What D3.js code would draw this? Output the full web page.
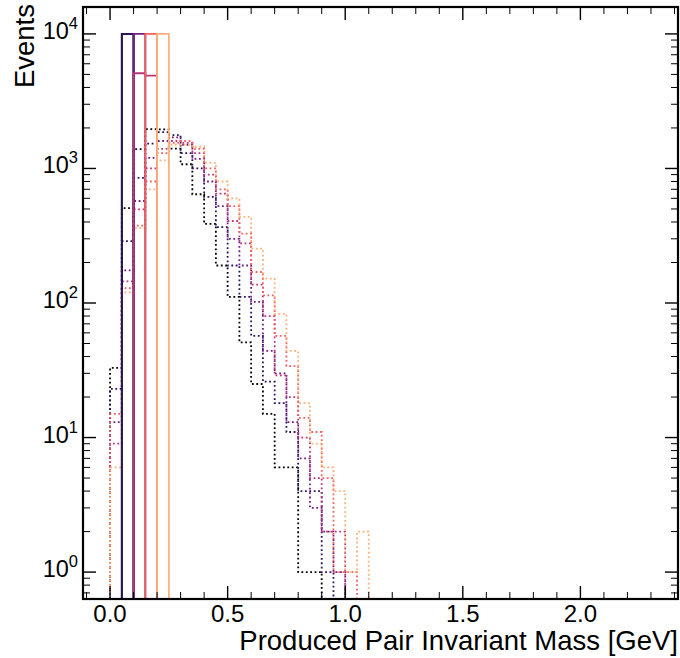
<!DOCTYPE html>
<html>
<head>
<meta charset="utf-8">
<script src="https://cdn.jsdelivr.net/npm/d3@7"></script>
<style>
  body { margin: 0; background: #fff; }
  text { font-family: "Liberation Sans", Arial, sans-serif; fill: #000; }
</style>
</head>
<body>
<div id="chart"></div>
<script>
// bin width of every histogram, GeV
const binWidth = 0.05;

// colours, one per sample
const colors = ["#000004", "#2c115f", "#721f81", "#b73779", "#f1605d", "#feb078"];

// generated (solid) histograms, counts per 0.05 GeV bin starting at 0
const solid0 = [0, 10000];
const solid1 = [0, 10000];
const solid2 = [0, 0, 10000];
const solid3 = [0, 0, 5100, 4900];
const solid4 = [0, 0, 0, 10000];
const solid5 = [0, 0, 0, 0, 10000];

// reconstructed (dotted) histograms, counts per 0.05 GeV bin starting at 0
const dotted0 = [33, 508, 1390, 1960, 1950, 1406, 1075, 643, 387, 190, 111, 51, 25, 15, 6, 6, 1, 1];
const dotted1 = [23, 288, 850, 1530, 1860, 1770, 1300, 1000, 614, 367, 190, 111, 57, 26, 18, 11, 4, 4, 1];
const dotted2 = [13, 175, 573, 1200, 1600, 1700, 1500, 1180, 800, 524, 300, 190, 102, 44, 30, 13, 7, 3, 2, 1];
const dotted3 = [9, 145, 497, 1000, 1400, 1600, 1550, 1300, 900, 650, 407, 277, 137, 80, 29, 20, 10, 5, 2, 2];
const dotted4 = [15, 129, 376, 800, 1300, 1550, 1600, 1400, 1000, 700, 524, 328, 170, 114, 57, 34, 14, 11, 5, 1, 1];
const dotted5 = [6, 120, 360, 700, 1150, 1500, 1500, 1450, 1100, 800, 600, 436, 254, 152, 83, 44, 18, 9, 6, 4, 1, 2];

const solids = [solid0, solid1, solid2, solid3, solid4, solid5];
const dotteds = [dotted0, dotted1, dotted2, dotted3, dotted4, dotted5];

const xTicks = [0.0, 0.5, 1.0, 1.5, 2.0];
const yTicks = [1, 10, 100, 1000, 10000];

const width = 680, height = 658;
const pLeft = 83, pRight = 678, pTop = 7, pBottom = 599;

const svg = d3.select("#chart").append("svg")
    .attr("width", width)
    .attr("height", height);

const x = d3.scaleLinear().domain([-0.115, 2.415]).range([pLeft, pRight]);
const y = d3.scaleLog().domain([Math.pow(10, -0.2), Math.pow(10, 4.2)]).range([pBottom, pTop]);

svg.append("clipPath").attr("id", "plot")
    .append("rect")
    .attr("x", pLeft).attr("y", pTop)
    .attr("width", pRight - pLeft).attr("height", pBottom - pTop);

// step outline of a histogram, zero bins drop out of the frame
function stepPath(counts) {
  const floor = 0.01;
  const v = c => c > 0 ? c : floor;
  let pts = [[0, floor]];
  counts.forEach((c, i) => {
    pts.push([i * binWidth, v(c)]);
    pts.push([(i + 1) * binWidth, v(c)]);
  });
  pts.push([counts.length * binWidth, floor]);
  return d3.line().x(d => x(d[0])).y(d => y(d[1]))(pts);
}

const g = svg.append("g").attr("clip-path", "url(#plot)");

dotteds.forEach((d, i) => {
  g.append("path")
      .attr("d", stepPath(d))
      .attr("fill", "none")
      .attr("stroke", colors[i])
      .attr("stroke-width", 1.8)
      .attr("stroke-dasharray", "1.8,2.6");
});

solids.forEach((d, i) => {
  g.append("path")
      .attr("d", stepPath(d))
      .attr("fill", "none")
      .attr("stroke", colors[i])
      .attr("stroke-width", 1.8);
});

/* ticks on all four sides, pointing in */
const minorX = d3.range(-1, 25).map(k => k / 10).filter(v => v >= -0.115 && v <= 2.415);
const minorY = [];
for (let e = -1; e <= 4; e++) {
  for (let m = 2; m <= 9; m++) {
    const v = m * Math.pow(10, e);
    if (v >= y.domain()[0] && v <= y.domain()[1]) minorY.push(v);
  }
}

const ticks = svg.append("g").attr("stroke", "#000");

minorX.forEach(v => {
  const major = xTicks.some(t => Math.abs(t - v) < 1e-9);
  const len = major ? 13 : 7;
  ticks.append("line").attr("x1", x(v)).attr("x2", x(v))
      .attr("y1", pBottom).attr("y2", pBottom - len).attr("stroke-width", major ? 1.4 : 1);
  ticks.append("line").attr("x1", x(v)).attr("x2", x(v))
      .attr("y1", pTop).attr("y2", pTop + len).attr("stroke-width", major ? 1.4 : 1);
});

yTicks.forEach(v => {
  ticks.append("line").attr("x1", pLeft).attr("x2", pLeft + 13)
      .attr("y1", y(v)).attr("y2", y(v)).attr("stroke-width", 1.4);
  ticks.append("line").attr("x1", pRight).attr("x2", pRight - 13)
      .attr("y1", y(v)).attr("y2", y(v)).attr("stroke-width", 1.4);
});
minorY.forEach(v => {
  ticks.append("line").attr("x1", pLeft).attr("x2", pLeft + 7)
      .attr("y1", y(v)).attr("y2", y(v)).attr("stroke-width", 1);
  ticks.append("line").attr("x1", pRight).attr("x2", pRight - 7)
      .attr("y1", y(v)).attr("y2", y(v)).attr("stroke-width", 1);
});

svg.append("rect")
    .attr("x", pLeft).attr("y", pTop)
    .attr("width", pRight - pLeft).attr("height", pBottom - pTop)
    .attr("fill", "none").attr("stroke", "#000").attr("stroke-width", 2.2);

/* tick labels */
xTicks.forEach(v => {
  svg.append("text")
      .attr("x", x(v)).attr("y", 622)
      .attr("text-anchor", "middle")
      .style("font-size", "24px")
      .text(v.toFixed(1));
});

yTicks.forEach(v => {
  const t = svg.append("text")
      .attr("x", 78).attr("y", y(v) + 5)
      .attr("text-anchor", "end")
      .style("font-size", "23.5px");
  t.append("tspan").text("10");
  t.append("tspan").attr("dy", -10).style("font-size", "16.5px").text(Math.round(Math.log10(v)));
});

/* axis titles */
svg.append("text")
    .attr("transform", `translate(34, 4) rotate(-90)`)
    .attr("text-anchor", "end")
    .style("font-size", "27.5px")
    .text("Events");

svg.append("text")
    .attr("x", pRight).attr("y", 650)
    .attr("text-anchor", "end")
    .style("font-size", "27.5px")
    .text("Produced Pair Invariant Mass [GeV]");
</script>
</body>
</html>
